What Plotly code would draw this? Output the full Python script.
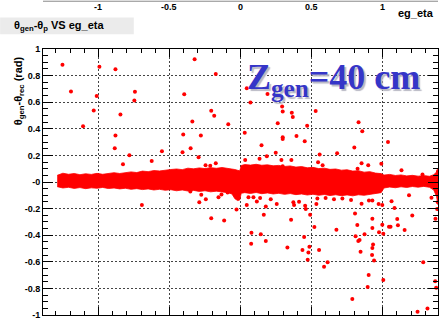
import plotly.graph_objects as go

# ---- data ---------------------------------------------------------------
# dense core of the distribution: upper / lower envelope vs eg_eta
band_x = [-1.29, -1.25, -1.21, -1.17, -1.13, -1.09, -1.05, -1.01, -0.97, -0.93,
          -0.89, -0.85, -0.81, -0.77, -0.73, -0.69, -0.65, -0.61, -0.57, -0.53,
          -0.49, -0.45, -0.41, -0.37, -0.33, -0.29, -0.25, -0.21, -0.17, -0.13,
          -0.09, -0.06, -0.04, -0.02, -0.005, 0.005, 0.03, 0.07, 0.11, 0.15,
          0.19, 0.23, 0.27, 0.31, 0.35, 0.39, 0.43, 0.47, 0.51, 0.55,
          0.59, 0.63, 0.67, 0.71, 0.75, 0.79, 0.83, 0.87, 0.91, 0.95,
          0.99, 1.01, 1.05, 1.09, 1.13, 1.17, 1.21, 1.25, 1.29, 1.33,
          1.36, 1.38, 1.39]
band_hi = [0.050, 0.066, 0.058, 0.064, 0.055, 0.062, 0.057, 0.065, 0.058, 0.063,
           0.070, 0.064, 0.072, 0.076, 0.071, 0.082, 0.078, 0.086, 0.083, 0.090,
           0.094, 0.098, 0.093, 0.104, 0.099, 0.106, 0.101, 0.108, 0.103, 0.109,
           0.104, 0.100, 0.094, 0.088, 0.084, 0.124, 0.131, 0.127, 0.133, 0.126,
           0.129, 0.122, 0.125, 0.117, 0.121, 0.112, 0.116, 0.107, 0.110, 0.101,
           0.104, 0.095, 0.098, 0.089, 0.092, 0.082, 0.085, 0.074, 0.078, 0.067,
           0.063, 0.052, 0.057, 0.049, 0.053, 0.046, 0.050, 0.044, 0.048, 0.043,
           0.055, 0.075, 0.095]
band_lo = [-0.035, -0.045, -0.040, -0.048, -0.042, -0.050, -0.044, -0.047, -0.041, -0.049,
           -0.045, -0.052, -0.047, -0.055, -0.050, -0.057, -0.052, -0.060, -0.055, -0.062,
           -0.058, -0.066, -0.060, -0.068, -0.063, -0.071, -0.066, -0.074, -0.069, -0.077,
           -0.080, -0.090, -0.125, -0.140, -0.135, -0.085, -0.080, -0.086, -0.079, -0.088,
           -0.082, -0.090, -0.085, -0.093, -0.087, -0.095, -0.090, -0.098, -0.092, -0.100,
           -0.094, -0.102, -0.096, -0.103, -0.097, -0.104, -0.096, -0.100, -0.092, -0.088,
           -0.080, -0.045, -0.038, -0.043, -0.036, -0.041, -0.034, -0.039, -0.033, -0.040,
           -0.060, -0.110, -0.170]

# isolated entries above the core
up_x = [-1.253, -0.993, -0.880, -1.193, -1.012, -0.743, -0.747, -1.033, -0.845, -1.108,
        -0.880, -0.885, -0.782, -0.553, -0.625, -0.827, -0.323, -0.174, -0.396, 0.070,
        -0.206, -0.185, -0.339, -0.086, -0.403, -0.279, 0.030, -0.408, -0.351, -0.295,
        -0.246, -0.213, -0.174, 0.033, 0.148, 0.134, 0.185, 0.248, 0.288, 0.297,
        0.358, 0.262, 0.297, 0.297, 0.293, 0.297, 0.361, 0.368, 0.394, 0.452,
        0.469, 0.044, 0.190, 0.529, 0.831, 0.857, 1.038, 0.801, 0.680, 0.557,
        0.546, 0.578, 0.852, 0.899, 0.991, 0.824, 1.133, 1.281, 1.390]
up_y = [0.881, 0.867, 0.847, 0.681, 0.647, 0.679, 0.612, 0.538, 0.508, 0.419,
        0.350, 0.254, 0.202, 0.232, 0.158, 0.133, 0.923, 0.812, 0.659, 0.597,
        0.536, 0.499, 0.454, 0.434, 0.358, 0.350, 0.370, 0.224, 0.254, 0.187,
        0.126, 0.123, 0.141, 0.165, 0.276, 0.175, 0.193, 0.219, 0.165, 0.119,
        0.165, 0.441, 0.336, 0.323, 0.567, 0.530, 0.521, 0.489, 0.345, 0.306,
        0.422, 0.704, 0.661, 0.533, 0.449, 0.382, 0.301, 0.259, 0.217, 0.207,
        0.148, 0.126, 0.141, 0.126, 0.138, 0.099, 0.089, 0.056, 0.081]

# isolated entries below the core
dn_x = [-0.694, -0.290, -0.244, -0.276, -0.155, -0.206, -0.115, -0.028, 0.044, 0.077,
        0.143, 0.075, 0.178, 0.164, 0.115, 0.178, 0.255, 0.330, 0.356, 0.448,
        0.436, 0.485, 0.478, 0.473, 0.455, 0.459, 0.490, 0.377, 0.534, 0.520,
        0.675, 0.553, 0.613, 0.588, 0.806, 0.822, 0.810, 0.829, 0.838, 0.873,
        0.845, 0.928, 0.928, 0.933, 0.928, 0.926, 0.940, 0.902, 0.895, 0.787,
        0.975, 0.998, 1.005, 1.005, 0.998, 0.972, 1.045, 1.056, 1.063, 1.084,
        1.108, 1.103, 1.155, 1.209, 1.186, 1.286, 1.246, 1.316, 1.370, 1.377,
        1.372, 1.344, 0.778, 0.852, 0.928, -0.353, -0.134, -0.091, 0.056, 0.091,
        0.138, 0.213, 0.372, 0.412, 0.541, 0.599, 0.658, 0.717, 0.904, 1.389,
        1.384]
dn_y = [-0.173, -0.153, -0.129, -0.096, -0.114, -0.272, -0.289, -0.207, -0.173, -0.381,
        -0.393, -0.464, -0.444, -0.247, -0.146, -0.185, -0.166, -0.492, -0.284, -0.413,
        -0.511, -0.487, -0.531, -0.585, -0.178, -0.203, -0.247, -0.173, -0.166, -0.339,
        -0.359, -0.511, -0.603, -0.637, -0.237, -0.324, -0.407, -0.444, -0.437, -0.393,
        -0.524, -0.277, -0.346, -0.470, -0.496, -0.548, -0.590, -0.699, -0.790, -0.879,
        -0.378, -0.321, -0.390, -0.736, -0.173, -0.166, -0.336, -0.336, -0.144, -0.196,
        -0.326, -0.279, -0.361, -0.252, -0.099, -0.603, -0.976, -0.951, -0.746, -0.796,
        -0.277, -0.119, -0.136, -0.163, -0.139, -0.072, -0.094, -0.079, -0.114, -0.114,
        -0.121, -0.129, -0.153, -0.148, -0.124, -0.121, -0.129, -0.124, -0.139, -0.153,
        -0.203]

# axis ticks
y_ticks = [1.0, 0.8, 0.6, 0.4, 0.2, 0.0, -0.2, -0.4, -0.6, -0.8, -1.0]
y_labels = ["1", "0.8", "0.6", "0.4", "0.2", "-0", "-0.2", "-0.4", "-0.6", "-0.8", "-1"]
top_ticks = [-1.0, -0.5, 0.0, 0.5, 1.0]
top_labels = ["-1", "-0.5", "0", "0.5", "1"]

RED = "#ff0000"
SANS = "Liberation Sans, Arial, sans-serif"

fig = go.Figure()

# core band as a filled region
fig.add_trace(go.Scatter(
    x=band_x + band_x[::-1],
    y=band_hi + band_lo[::-1],
    mode="lines", fill="toself", fillcolor=RED,
    line=dict(color=RED, width=0.8),
    hoverinfo="skip", showlegend=False))

# isolated entries
fig.add_trace(go.Scatter(
    x=up_x + dn_x, y=up_y + dn_y, mode="markers",
    marker=dict(symbol="circle", size=4, color=RED, line=dict(width=0)),
    showlegend=False))

fig.update_xaxes(
    range=[-1.39, 1.39], showticklabels=False,
    tick0=0, dtick=0.5, ticks="inside", ticklen=8, tickwidth=1, tickcolor="black",
    minor=dict(dtick=0.1, ticks="inside", ticklen=4, tickcolor="black", showgrid=False),
    showline=True, linecolor="black", linewidth=1, mirror="allticks",
    showgrid=True, gridcolor="#444444", gridwidth=1, griddash="2px,2px",
    zeroline=False)
fig.update_yaxes(
    range=[-1, 1], tickvals=y_ticks, ticktext=y_labels,
    ticks="inside", ticklen=10, tickwidth=1, tickcolor="black",
    minor=dict(dtick=0.05, ticks="inside", ticklen=5, tickcolor="black", showgrid=False),
    showline=True, linecolor="black", linewidth=1, mirror="allticks",
    showgrid=True, gridcolor="#444444", gridwidth=1, griddash="2px,2px",
    zeroline=False, ticklabeloverflow="allow",
    tickfont=dict(family=SANS, size=9, color="black", weight="bold"))

annotations = []
# tick labels of the pad above
for v, t in zip(top_ticks, top_labels):
    annotations.append(dict(x=v, y=1.159, xref="x", yref="paper", text=t,
                            showarrow=False, xanchor="center", yanchor="middle",
                            font=dict(family=SANS, size=9, color="black", weight="bold")))
annotations.append(dict(x=0.995, y=1.135, xref="paper", yref="paper", text="eg_eta",
                        showarrow=False, xanchor="right", yanchor="middle",
                        font=dict(family=SANS, size=11, color="black", weight="bold")))
# histogram title
annotations.append(dict(x=-0.078, y=1.087, xref="paper", yref="paper",
                        text="θ<sub>gen</sub>-θ<sub>p</sub> VS eg_eta",
                        showarrow=False, xanchor="left", yanchor="middle",
                        font=dict(family=SANS, size=11, color="black", weight="bold")))
# y axis title
annotations.append(dict(x=-0.061, y=0.845, xref="paper", yref="paper",
                        text="θ<sub>gen</sub>-θ<sub>rec</sub> (rad)", textangle=-90,
                        showarrow=False, xanchor="center", yanchor="middle",
                        font=dict(family=SANS, size=11, color="black", weight="bold")))
# vertex label, drawn with a soft grey drop shadow
annotations.append(dict(x=0.035, y=0.887, xref="x", yref="paper",
                        text="Z<sub>gen</sub>=40 cm",
                        showarrow=False, xanchor="left", yanchor="middle",
                        font=dict(family="Liberation Serif, Times New Roman, serif",
                                  size=36, weight="bold", color="#3535c8",
                                  shadow="2px 2px 1px #b8b8c4")))

shapes = [
    # title box
    dict(type="rect", xref="paper", yref="paper", x0=-0.1086, x1=0.2298,
         y0=1.0556, y1=1.1185, fillcolor="#ebebeb", line=dict(width=0), layer="below"),
    # bottom edge of the pad above
    dict(type="line", xref="paper", yref="paper", x0=0, x1=1.0, y0=1.1796, y1=1.1796,
         line=dict(color="#888888", width=1)),
]

fig.update_layout(
    width=440, height=321,
    margin=dict(l=43, r=1, t=49, b=2),
    paper_bgcolor="white", plot_bgcolor="white",
    annotations=annotations, shapes=shapes,
    showlegend=False)

fig.write_html("out.html")
